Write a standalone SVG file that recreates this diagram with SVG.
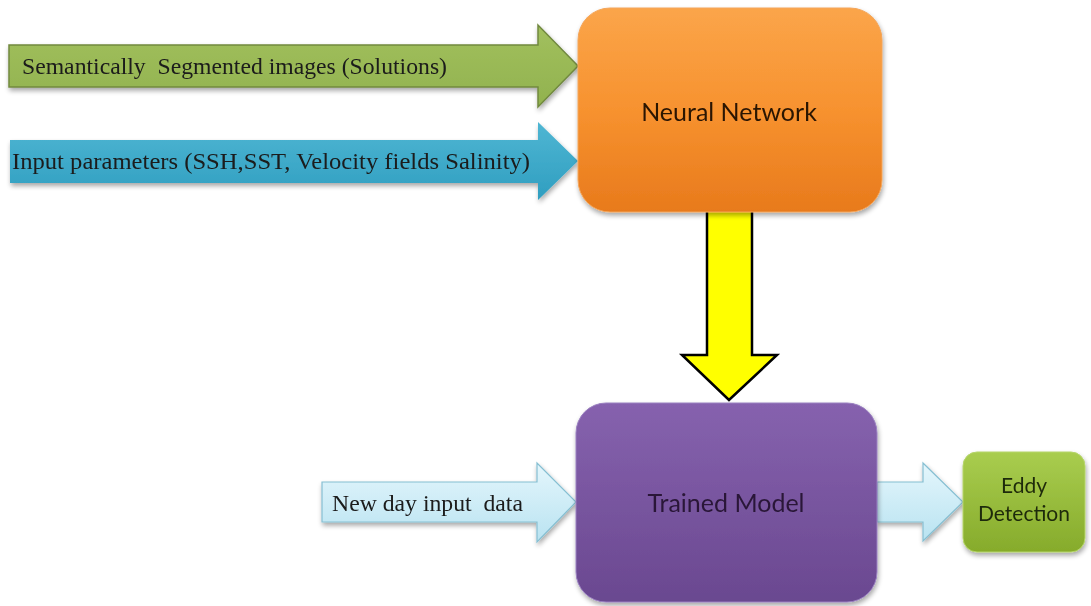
<svg xmlns="http://www.w3.org/2000/svg" width="1091" height="606" viewBox="0 0 1091 606">
<defs>
<linearGradient id="gOrange" x1="0" y1="0" x2="0" y2="1"><stop offset="0" stop-color="#fba54a"/><stop offset="0.5" stop-color="#f7922f"/><stop offset="1" stop-color="#e87a1c"/></linearGradient>
<linearGradient id="gPurple" x1="0" y1="0" x2="0" y2="1"><stop offset="0" stop-color="#8662ae"/><stop offset="1" stop-color="#6a4890"/></linearGradient>
<linearGradient id="gEddy" x1="0" y1="0" x2="0" y2="1"><stop offset="0" stop-color="#a9cd4f"/><stop offset="1" stop-color="#86ab2b"/></linearGradient>
<linearGradient id="gGreen" x1="0" y1="0" x2="0" y2="1"><stop offset="0" stop-color="#a2c05e"/><stop offset="1" stop-color="#91b24e"/></linearGradient>
<linearGradient id="gBlue" x1="0" y1="0" x2="0" y2="1"><stop offset="0" stop-color="#4fb6d3"/><stop offset="1" stop-color="#2f9ec0"/></linearGradient>
<linearGradient id="gLight" x1="0" y1="0" x2="0" y2="1"><stop offset="0" stop-color="#e4f6fc"/><stop offset="1" stop-color="#b9e3f1"/></linearGradient>
<filter id="shadow" x="-10%" y="-10%" width="130%" height="130%"><feGaussianBlur in="SourceAlpha" stdDeviation="2.5"/><feOffset dx="1" dy="3"/><feComponentTransfer><feFuncA type="linear" slope="0.35"/></feComponentTransfer><feMerge><feMergeNode/><feMergeNode in="SourceGraphic"/></feMerge></filter>
</defs>
<style>
.serif{font-family:"Liberation Serif","Times New Roman",serif;font-size:23px;fill:#1a1a1a;white-space:pre}
.sans{font-family:Lato,"Open Sans",sans-serif;text-anchor:middle}
</style>
<rect width="1091" height="606" fill="#ffffff"/>
<g id="connectors">
<g id="arrow-segmented" filter="url(#shadow)">
<path d="M9,45 L538,45 L538,25 L578,66 L538,107 L538,87 L9,87 Z" fill="url(#gGreen)" stroke="#71893f" stroke-width="1.5"/>
<text class="serif" x="22" y="74" xml:space="preserve" textLength="425" lengthAdjust="spacingAndGlyphs">Semantically  Segmented images (Solutions)</text>
</g>
<g id="arrow-input" filter="url(#shadow)">
<path d="M10,140 L538,140 L538,122 L578,161 L538,200 L538,183 L10,183 Z" fill="url(#gBlue)"/>
<text class="serif" x="12" y="169" xml:space="preserve" textLength="518" lengthAdjust="spacingAndGlyphs">Input parameters (SSH,SST, Velocity fields Salinity)</text>
</g>
<g id="arrow-train">
<path d="M707,210 L752,210 L752,355 L777,355 L729,400 L682,355 L707,355 Z" fill="#ffff00" stroke="#000" stroke-width="2.5" stroke-linejoin="miter"/>
</g>
<g id="arrow-newday" filter="url(#shadow)">
<path d="M322,482 L537,482 L537,463 L576,502 L537,542 L537,522 L322,522 Z" fill="url(#gLight)" stroke="#86bfd2" stroke-width="1.2"/>
<text class="serif" x="332" y="511" xml:space="preserve" textLength="191" lengthAdjust="spacingAndGlyphs">New day input  data</text>
</g>
<g id="arrow-output" filter="url(#shadow)">
<path d="M877,482 L923,482 L923,463 L963,502 L923,541 L923,522 L877,522 Z" fill="url(#gLight)" stroke="#86bfd2" stroke-width="1.2"/>
</g>
</g>
<g id="node-neural-network" filter="url(#shadow)">
<rect x="578" y="8" width="304" height="204" rx="32" fill="url(#gOrange)" stroke="#f3a55a" stroke-width="1"/>
<text class="sans" x="729" y="121" font-size="25" fill="#2b1505">Neural Network</text>
</g>
<g id="node-trained-model" filter="url(#shadow)">
<rect x="576" y="403" width="301" height="199" rx="30" fill="url(#gPurple)" stroke="#9a80c0" stroke-width="1"/>
<text class="sans" x="726" y="512" font-size="25" fill="#2a1838">Trained Model</text>
</g>
<g id="node-eddy-detection" filter="url(#shadow)">
<rect x="963" y="452" width="122" height="100" rx="14" fill="url(#gEddy)" stroke="#b5d56a" stroke-width="1"/>
<text class="sans" x="1024" y="493" font-size="21" fill="#1f2a08">Eddy</text>
<text class="sans" x="1024" y="521" font-size="21" fill="#1f2a08">Detection</text>
</g>
</svg>
